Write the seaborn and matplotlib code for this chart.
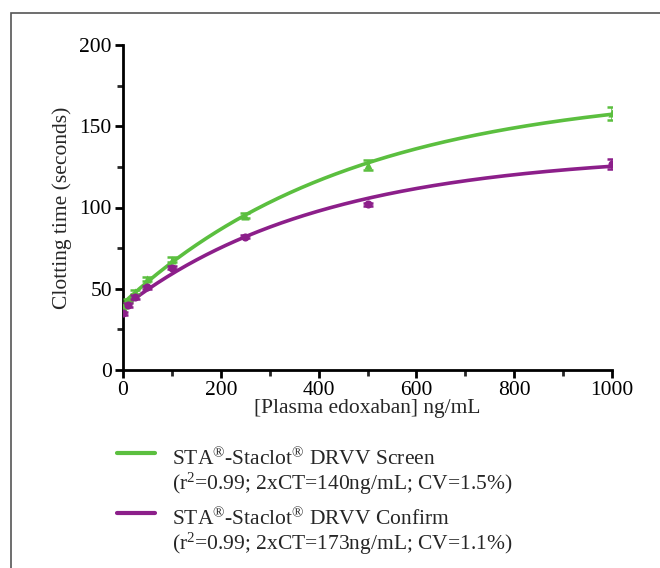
import numpy as np
import pandas as pd
import matplotlib
matplotlib.use("Agg")
import matplotlib.pyplot as plt
from matplotlib.lines import Line2D
from matplotlib.patches import Rectangle
from matplotlib.ticker import MultipleLocator
import seaborn as sns

# ---- data ----
conc = [0, 10, 25, 50, 100, 250, 500, 1000]
screen = [39, 43, 48, 56, 68, 95, 126, 158]
screen_err = [1, 1, 1, 1.5, 1.5, 1.5, 3, 4]
confirm = [35, 40, 45, 51, 63, 82, 102, 127]
confirm_err = [1, 1, 1, 1, 1, 1, 1, 3]
labels = ["STA$^{®}$-Staclot$^{®}$ DRVV Screen",
          "STA$^{®}$-Staclot$^{®}$ DRVV Confirm"]
stats = ["(r$^{2}$=0.99; 2xCT=140ng/mL; CV=1.5%)",
         "(r$^{2}$=0.99; 2xCT=173ng/mL; CV=1.1%)"]
xticks = [0, 200, 400, 600, 800, 1000]
yticks = [0, 50, 100, 150, 200]

GREEN = "#5bbf3f"
PURPLE = "#8c1f8a"
FS = 15.5

sns.set_theme(style="ticks")
plt.rcParams["font.family"] = ["Liberation Serif", "DejaVu Serif"]
plt.rcParams["mathtext.fontset"] = "custom"
plt.rcParams["mathtext.rm"] = "Liberation Serif"
plt.rcParams["mathtext.it"] = "Liberation Serif"

fig = plt.figure(figsize=(6.6, 5.68), dpi=100)
ax = fig.add_axes([123 / 660, 1 - 370 / 568, (612 - 123) / 660, (370 - 45) / 568])

# border frame (only left/top visible)
fig.add_artist(Rectangle((11 / 660, -0.1), 1.2, 1 - 13 / 568 + 0.1,
                         transform=fig.transFigure, fill=False,
                         edgecolor="#555555", linewidth=1.2))


def fit_one_phase(x, y):
    x = np.asarray(x, float)
    y = np.asarray(y, float)
    best = None
    for k in np.linspace(0.0005, 0.02, 2000):
        basis = np.column_stack([np.ones_like(x), 1 - np.exp(-k * x)])
        coef, *_ = np.linalg.lstsq(basis, y, rcond=None)
        r = np.sum((basis @ coef - y) ** 2)
        if best is None or r < best[0]:
            best = (r, k, coef)
    _, k, coef = best
    return lambda t: coef[0] + coef[1] * (1 - np.exp(-k * t))


xs = np.linspace(0, 1000, 300)
for yv, err, col, mk in [(screen, screen_err, GREEN, "^"),
                         (confirm, confirm_err, PURPLE, "o")]:
    f = fit_one_phase(conc, yv)
    df_fit = pd.DataFrame({"x": xs, "y": f(xs)})
    sns.lineplot(data=df_fit, x="x", y="y", ax=ax, color=col, linewidth=2.6)
    ax.errorbar(conc, yv, yerr=err, fmt="none", ecolor=col, elinewidth=1.8,
                capsize=3.5, capthick=1.8, zorder=3)
    sns.scatterplot(x=conc, y=yv, ax=ax, color=col, marker=mk, s=34,
                    edgecolor=col, linewidth=0, zorder=4)

ax.set_xlim(0, 1000)
ax.set_ylim(0, 200)
ax.set_xticks(xticks)
ax.set_yticks(yticks)
ax.xaxis.set_minor_locator(MultipleLocator(100))
ax.yaxis.set_minor_locator(MultipleLocator(25))
ax.tick_params(which="major", length=6, width=2, labelsize=FS, pad=2,
               colors="black")
ax.tick_params(which="minor", length=4.5, width=2)
for s in ["left", "bottom"]:
    ax.spines[s].set_linewidth(2)
    ax.spines[s].set_color("black")
sns.despine(ax=ax)
ax.set_xlabel("[Plasma edoxaban] ng/mL", fontsize=FS, labelpad=-1)
ax.set_ylabel("Clotting time (seconds)", fontsize=FS, labelpad=5)

# legend below the axes
for i, (col, lab, st) in enumerate(zip([GREEN, PURPLE], labels, stats)):
    yl = 453 + i * 60
    fig.add_artist(Line2D([117 / 660, 155 / 660], [1 - yl / 568] * 2,
                          transform=fig.transFigure, color=col, linewidth=3))
    fig.text(172 / 660, 1 - (yl + 6) / 568, lab, fontsize=FS, va="center",
             ha="left")
    fig.text(172 / 660, 1 - (yl + 31) / 568, st, fontsize=FS, va="center",
             ha="left")

fig.savefig("out.png", dpi=100)
